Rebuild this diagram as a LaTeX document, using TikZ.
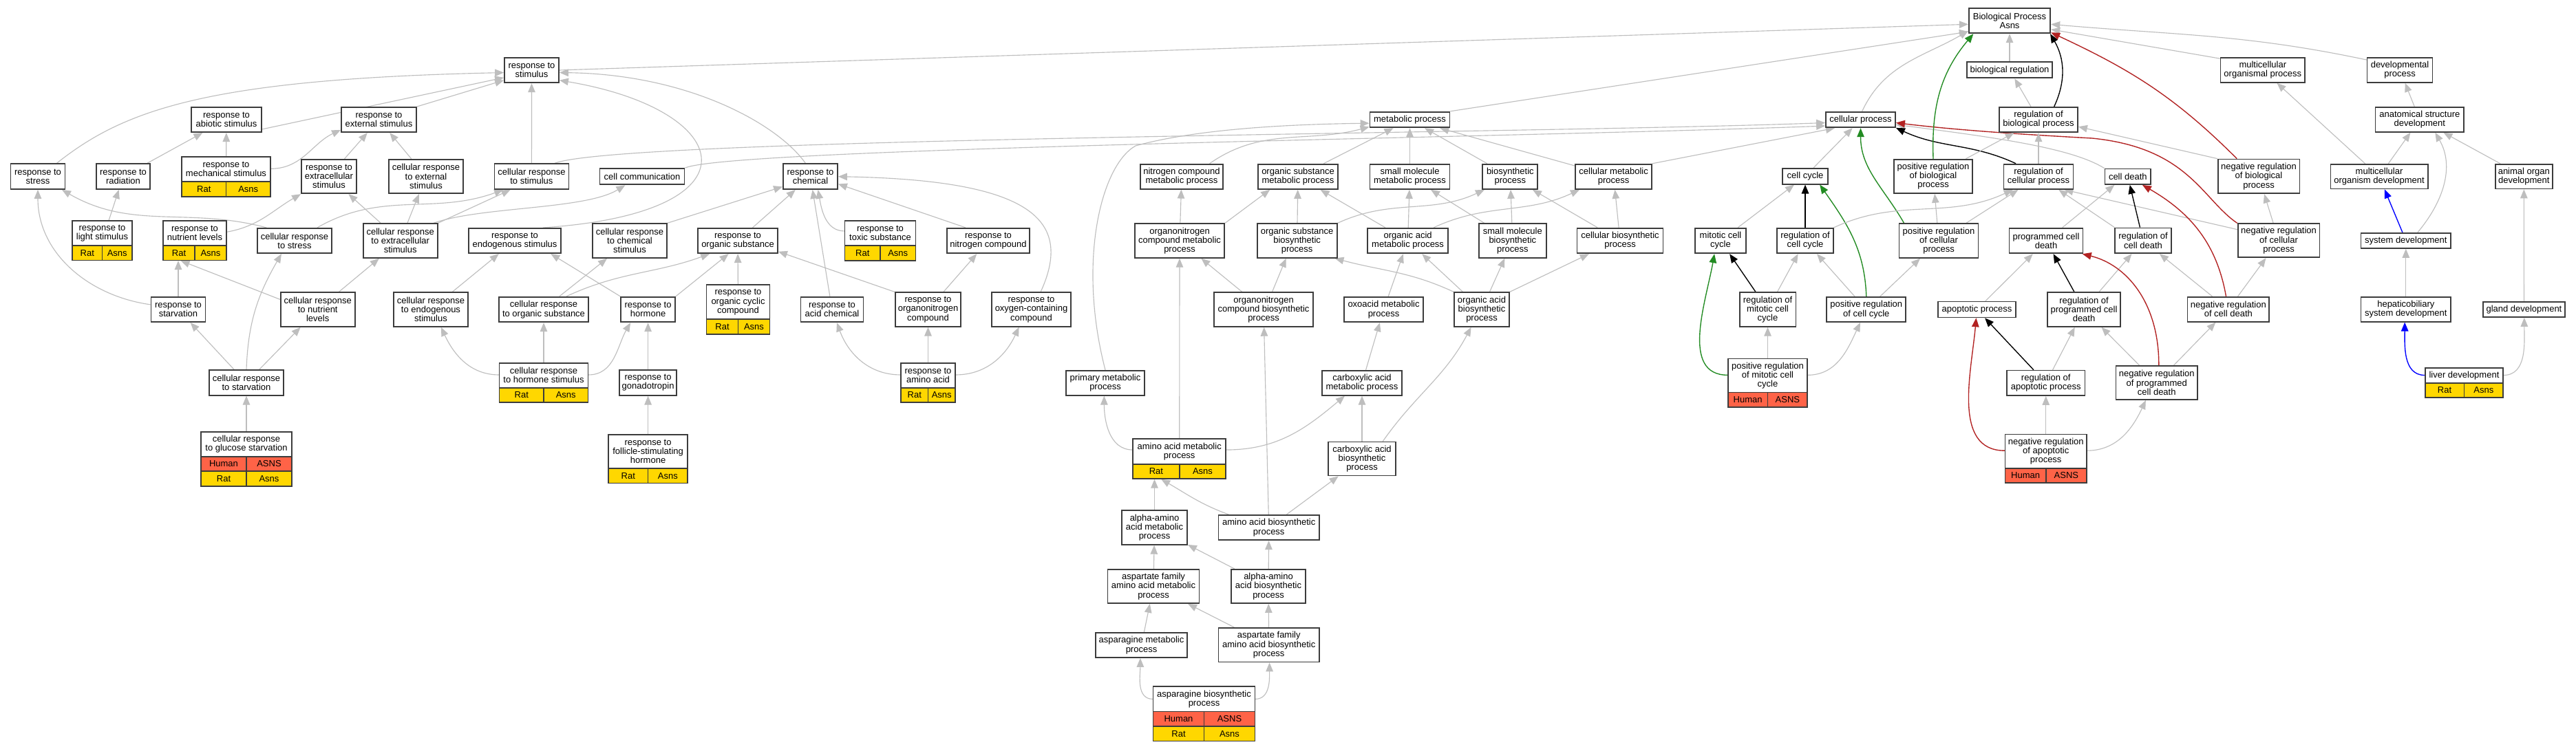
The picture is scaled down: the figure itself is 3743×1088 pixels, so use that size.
\documentclass[tikz,border=0pt]{standalone}
\usepackage{fontspec}
\setmainfont{Liberation Sans}
\usetikzlibrary{arrows.meta,backgrounds}
\definecolor{edgegray}{RGB}{190,190,190}
\definecolor{boxc}{RGB}{60,60,60}
\definecolor{ratc}{RGB}{255,215,0}
\definecolor{humc}{RGB}{255,99,71}
\definecolor{gline}{RGB}{34,139,34}
\definecolor{rline}{RGB}{178,34,34}
\definecolor{bline}{RGB}{0,0,255}
\newcommand\gofont{\fontsize{5.2}{5.3}\selectfont}
\tikzset{
 gotext/.style={draw=boxc,line width=0.7pt,fill=white,inner sep=0pt,align=center,font=\gofont},
 gocell/.style={draw=boxc,line width=0.7pt,inner sep=0pt,font=\gofont},
 gotip/.style={-{Triangle[length=5.2pt,width=4.2pt]}},
 ge/.style={draw=edgegray,line width=0.45pt,gotip},
 gk/.style={draw=black,line width=0.55pt,gotip},
 gg/.style={draw=gline,line width=0.55pt,gotip},
 gr/.style={draw=rline,line width=0.55pt,gotip},
 gb/.style={draw=bline,line width=0.55pt,gotip},
}
% plain box: name, cx, cy, w, h, text
\newcommand\gn[6]{\node[gotext,minimum width=#4*0.4pt,minimum height=#5*0.4pt] (#1) at (#2,-#3) {#6};}
% box with gene rows: name, cx, ytop, w, htext, nrows, text
\newcommand\gbox[7]{%
 \node[inner sep=0pt,minimum width=#4*0.4pt,minimum height={(#5+#6*21.5)*0.4pt}] (#1) at (#2,{-(#3+(#5+#6*21.5)/2)}) {};
 \node[gotext,minimum width=#4*0.4pt,minimum height=#5*0.4pt] at (#2,{-(#3+#5/2)}) {#7};}
% gene row: cx, ytop, w, colour, left, right
\newcommand\grow[6]{%
 \node[gocell,fill=#4,minimum width={#3/2*0.4pt},minimum height=21.5*0.4pt] at ({#1-#3/4},{-(#2+10.75)}) {#5};
 \node[gocell,fill=#4,minimum width={#3/2*0.4pt},minimum height=21.5*0.4pt] at ({#1+#3/4},{-(#2+10.75)}) {#6};}
\begin{document}
\begin{tikzpicture}[x=0.4pt,y=0.4pt]
\useasboundingbox (0,0) rectangle (3743,-1088);
% ---------- rank 0-2
\gn{bp}{2920}{30}{118.5}{36.6}{Biological Process\\Asns}
\gn{stim}{772.5}{102}{79}{36.6}{response to\\stimulus}
\gn{breg}{2920}{101.7}{124}{23.3}{biological regulation}
\gn{mop}{3287.8}{101.8}{122.5}{36}{multicellular\\organismal process}
\gn{dev}{3487}{101.8}{95}{36}{developmental\\process}
\gn{abio}{329}{174}{102}{36.3}{response to\\abiotic stimulus}
\gn{ext}{550.5}{174}{109}{36.3}{response to\\external stimulus}
\gn{met}{2048.5}{174}{116}{22.7}{metabolic process}
\gn{cp}{2703.5}{174}{101}{22.7}{cellular process}
\gn{rbp}{2962}{174}{114}{36.3}{regulation of\\biological process}
\gn{asd}{3515.8}{173.8}{128.7}{36}{anatomical structure\\development}
% ---------- rank 3
\gn{stress}{55}{256.5}{79}{37}{response to\\stress}
\gn{rad}{179}{256.5}{78}{37}{response to\\radiation}
\gbox{mech}{328.5}{227.7}{129}{36.6}{1}{response to\\mechanical stimulus}
\grow{328.5}{264.3}{129}{ratc}{Rat}{Asns}
\gn{exs}{478}{256.5}{80}{49.6}{response to\\extracellular\\stimulus}
\gn{cres}{619}{256.5}{108.5}{49.6}{cellular response\\to external\\stimulus}
\gn{crstim}{772.4}{256.7}{108}{36.7}{cellular response\\to stimulus}
\gn{ccom}{933}{256.7}{123}{23.3}{cell communication}
\gn{chem}{1177.5}{256.7}{79}{36.7}{response to\\chemical}
\gn{ncmp}{1717}{256.7}{120}{36}{nitrogen compound\\metabolic process}
\gn{osmp}{1886}{256.8}{116}{36.3}{organic substance\\metabolic process}
\gn{smmp}{2048.5}{256.8}{116}{36.3}{small molecule\\metabolic process}
\gn{bsp}{2194.3}{256.8}{80}{36.3}{biosynthetic\\process}
\gn{cmp}{2344.6}{256.8}{111}{36.3}{cellular metabolic\\process}
\gn{cc}{2623}{256.3}{66}{22.7}{cell cycle}
\gn{prbp}{2809}{256.3}{114.6}{49.3}{positive regulation\\of biological\\process}
\gn{rcp}{2962}{256.8}{101}{36.3}{regulation of\\cellular process}
\gn{cd}{3091.8}{256.7}{66.8}{22.6}{cell death}
\gn{nrbp}{3282}{256.4}{118.8}{49.8}{negative regulation\\of biological\\process}
\gn{mod}{3457}{256.6}{141.2}{35.6}{multicellular\\organism development}
\gn{aod}{3667.3}{256.6}{83.4}{35.6}{animal organ\\development}
% ---------- rank 4
\gbox{light}{148.5}{321}{87}{36}{1}{response to\\light stimulus}
\grow{148.5}{357}{87}{ratc}{Rat}{Asns}
\gbox{nutr}{283}{321}{92}{36}{1}{response to\\nutrient levels}
\grow{283}{357}{92}{ratc}{Rat}{Asns}
\gn{crstress}{428}{350}{108}{36.3}{cellular response\\to stress}
\gn{crexs}{581.7}{350}{108}{49.7}{cellular response\\to extracellular\\stimulus}
\gn{endo}{748}{350}{133.5}{36.3}{response to\\endogenous stimulus}
\gn{crchem}{915}{350}{108}{49.7}{cellular response\\to chemical\\stimulus}
\gn{orgs}{1072}{350}{116}{36.3}{response to\\organic substance}
\gbox{toxic}{1279}{321}{103}{36.3}{1}{response to\\toxic substance}
\grow{1279}{357.3}{103}{ratc}{Rat}{Asns}
\gn{nitro}{1436}{350}{120}{36.6}{response to\\nitrogen compound}
\gn{oncmp}{1714}{350}{130.5}{49.7}{organonitrogen\\compound metabolic\\process}
\gn{osbp}{1884.6}{350}{116}{49.4}{organic substance\\biosynthetic\\process}
\gn{oamp}{2045.6}{350}{116.7}{36.6}{organic acid\\metabolic process}
\gn{smbp}{2197.8}{350}{98}{49.4}{small molecule\\biosynthetic\\process}
\gn{cbp}{2354}{350}{125}{36.6}{cellular biosynthetic\\process}
\gn{mcc}{2500}{350}{73.4}{36.6}{mitotic cell\\cycle}
\gn{rcc}{2623}{350}{81.6}{36.6}{regulation of\\cell cycle}
\gn{prcp}{2817}{350}{115}{49.7}{positive regulation\\of cellular\\process}
\gn{pcd}{2973}{350}{107}{36.6}{programmed cell\\death}
\gn{rcd}{3114}{349.8}{81.6}{36.8}{regulation of\\cell death}
\gn{nrcp}{3311}{349.8}{118.8}{49}{negative regulation\\of cellular\\process}
\gn{sysd}{3495.8}{349.8}{130.5}{22.2}{system development}
% ---------- rank 5
\gn{starv}{259}{450}{79}{36.3}{response to\\starvation}
\gn{crnut}{461.7}{450}{108}{49.7}{cellular response\\to nutrient\\levels}
\gn{crendo}{626}{450}{108}{49.7}{cellular response\\to endogenous\\stimulus}
\gn{crorgs}{790}{450}{130}{36.6}{cellular response\\to organic substance}
\gn{horm}{941.6}{450}{79}{36.6}{response to\\hormone}
\gbox{orgcyc}{1072.5}{414.3}{92}{50}{1}{response to\\organic cyclic\\compound}
\grow{1072.5}{464.3}{92}{ratc}{Rat}{Asns}
\gn{acid}{1209}{450}{91}{36.6}{response to\\acid chemical}
\gn{onc}{1348.5}{450}{95}{49.3}{response to\\organonitrogen\\compound}
\gn{oxy}{1498.5}{450}{115}{49.3}{response to\\oxygen-containing\\compound}
\gn{oncbp}{1836}{450}{144}{49.6}{organonitrogen\\compound biosynthetic\\process}
\gn{oxo}{2010.5}{450}{115}{36.4}{oxoacid metabolic\\process}
\gn{oabp}{2153}{450}{80}{49.6}{organic acid\\biosynthetic\\process}
\gn{rmcc}{2568.5}{450}{81.7}{49.6}{regulation of\\mitotic cell\\cycle}
\gn{prcc}{2711.8}{450}{115}{36.1}{positive regulation\\of cell cycle}
\gn{apo}{2872.5}{450}{113}{22.8}{apoptotic process}
\gn{rpcd}{3028}{450}{106}{49.6}{regulation of\\programmed cell\\death}
\gn{nrcd}{3237.8}{449.7}{118.5}{36}{negative regulation\\of cell death}
\gn{hep}{3495.8}{449.7}{130.5}{36}{hepaticobiliary\\system development}
\gn{gland}{3667.4}{450}{118.8}{22}{gland development}
% ---------- rank 6
\gn{crstarv}{358}{556.5}{107.6}{36.4}{cellular response\\to starvation}
\gbox{crhorm}{790}{527.7}{129}{36}{1}{cellular response\\to hormone stimulus}
\grow{790}{563.7}{129}{ratc}{Rat}{Asns}
\gn{gonad}{941.6}{556.5}{83}{36.4}{response to\\gonadotropin}
\gbox{aa}{1348.5}{527.7}{79}{36}{1}{response to\\amino acid}
\grow{1348.5}{563.7}{79}{ratc}{Rat}{Asns}
\gn{pmp}{1606}{556.7}{113.5}{36}{primary metabolic\\process}
\gn{cam}{1979}{556.7}{116}{36}{carboxylic acid\\metabolic process}
\gbox{prmcc}{2568.5}{521.4}{115.6}{49}{1}{positive regulation\\of mitotic cell\\cycle}
\grow{2568.5}{570.4}{115.6}{humc}{Human}{ASNS}
\gn{rap}{2972.7}{556.8}{113.4}{36.4}{regulation of\\apoptotic process}
\gn{nrpcd}{3133.7}{556.5}{118.4}{49}{negative regulation\\of programmed\\cell death}
\gbox{liver}{3580.4}{535}{113.4}{21.8}{1}{liver development}
\grow{3580.4}{556.8}{113.4}{ratc}{Rat}{Asns}
% ---------- rank 7
\gbox{glucose}{358}{627.7}{132}{36}{2}{cellular response\\to glucose starvation}
\grow{358}{663.7}{132}{humc}{Human}{ASNS}
\grow{358}{685.2}{132}{ratc}{Rat}{Asns}
\gbox{fsh}{941.6}{631.7}{115}{49.3}{1}{response to\\follicle-stimulating\\hormone}
\grow{941.6}{681}{115}{ratc}{Rat}{Asns}
\gbox{aamp}{1713.7}{638.3}{135}{36.4}{1}{amino acid metabolic\\process}
\grow{1713.7}{674.7}{135}{ratc}{Rat}{Asns}
\gn{cabp}{1979}{667}{97.6}{49}{carboxylic acid\\biosynthetic\\process}
\gbox{nrap}{2972.7}{631.4}{118.6}{49.3}{1}{negative regulation\\of apoptotic\\process}
\grow{2972.7}{680.7}{118.6}{humc}{Human}{ASNS}
% ---------- rank 8-11
\gn{aaamp}{1677.5}{767}{95}{49.6}{alpha-amino\\acid metabolic\\process}
\gn{aabp}{1843.7}{767}{146.4}{36.3}{amino acid biosynthetic\\process}
\gn{afmp}{1676}{852.4}{133}{49.2}{aspartate family\\amino acid metabolic\\process}
\gn{aaabp}{1843}{852.4}{108}{49.2}{alpha-amino\\acid biosynthetic\\process}
\gn{asnmp}{1658.5}{938}{133}{36}{asparagine metabolic\\process}
\gn{afbp}{1843.7}{937.7}{146.4}{49.5}{aspartate family\\amino acid biosynthetic\\process}
\gbox{asnbp}{1749.5}{998}{148}{36.5}{2}{asparagine biosynthetic\\process}
\grow{1749.5}{1034.5}{148}{humc}{Human}{ASNS}
\grow{1749.5}{1056}{148}{ratc}{Rat}{Asns}

\begin{pgfonlayer}{background}
\fill[white] (0,0) rectangle (3743,-1088);
% ---- stimulus branch
\draw[ge] (stress.35) .. controls (180,-160) and (300,-115) .. (stim.185);
\draw[ge] (rad) -- (abio);
\draw[ge] (mech) -- (abio);
\draw[ge] (mech.10) to[out=0,in=205] (ext.195);
\draw[ge] (exs) -- (ext);
\draw[ge] (cres) -- (ext);
\draw[ge] (abio.-15) -- (stim.195);
\draw[ge] (ext.north east) -- (stim.200);
\draw[ge] (light) -- (rad);
\draw[ge] (nutr.15) to[out=10,in=210] (exs.south west);
\draw[ge] (crstress.155) to[out=165,in=-30] (stress.-29);
\draw[ge] (crstress.30) to[out=30,in=200] (crstim.205);
\draw[ge] (crexs) -- (exs);
\draw[ge] (crexs) -- (cres);
\draw[ge] (crexs.north east) -- (crstim.212);
\draw[ge] (crexs.28) .. controls (700,-300) and (850,-305) .. (ccom.207);
\draw[ge] (stim.east) -- (bp.185);
\draw[ge] (crstim) -- (stim);
\draw[ge] (chem.110) .. controls (1130,-180) and (1000,-108) .. (stim.-5);
\draw[ge] (endo.25) .. controls (1110,-310) and (1070,-160) .. (stim.-20);
\draw[ge] (crchem.north east) -- (chem.200);
\draw[ge] (orgs) -- (chem);
\draw[ge] (acid) -- (chem);
\draw[ge] (toxic.165) to[out=180,in=-80] (chem.-60);
\draw[ge] (oxy.62) .. controls (1560,-320) and (1500,-262) .. (chem.east);
\draw[ge] (nitro.150) -- (chem.-15);
\draw[ge] (crstarv.north) to[out=88,in=-120] (crstress.225);
\draw[ge] (starv.170) to[out=172,in=-90] (stress.south);
\draw[ge] (starv.north) -- (starv.north |- nutr.south);
\draw[ge] (crnut.165) -- (nutr.235);
\draw[ge] (crnut) -- (crexs);
\draw[ge] (crstarv) -- (starv);
\draw[ge] (crstarv) -- (crnut);
\draw[ge] (glucose) -- (crstarv);
\draw[ge] (crendo) -- (endo);
\draw[ge] (horm.north west) -- (endo.-20);
\draw[ge] (crorgs.40) -- (crchem.218);
\draw[ge] (crorgs.30) to[out=25,in=200] (orgs.205);
\draw[ge] (horm.north east) -- (orgs.235);
\draw[ge] (orgcyc) -- (orgs);
\draw[ge] (onc.north west) -- (orgs.-15);
\draw[ge] (crhorm.170) to[out=180,in=-65] (crendo.-60);
\draw[ge] (crhorm) -- (crorgs);
\draw[ge] (crhorm.10) to[out=0,in=-120] (horm.217);
\draw[ge] (gonad) -- (horm);
\draw[ge] (fsh) -- (gonad);
\draw[ge] (onc) -- (nitro);
\draw[ge] (aa) -- (onc);
\draw[ge] (aa.164) to[out=180,in=-70] (acid.-70);
\draw[ge] (aa.16) to[out=0,in=-115] (oxy.235);
% ---- top level
\draw[ge] (met.north east) -- (bp.195);
\draw[ge] (cp.80) to[out=65,in=210] (bp.194);
\draw[ge] (breg) -- (bp);
\draw[ge] (mop.165) -- (bp.-12);
\draw[ge] (dev.163) to[out=168,in=-5] (bp.-5);
\draw[ge] (asd) -- (dev);
\draw[ge] (mod) -- (mop);
\draw[ge] (mod) -- (asd);
\draw[ge] (aod) -- (asd);
\draw[gb] (sysd) -- (mod);
\draw[ge] (sysd.35) to[out=50,in=-60] (asd.-40);
\draw[ge] (hep) -- (sysd);
\draw[ge] (gland) -- (aod);
\draw[gb] (liver.169) to[out=180,in=-90] (hep.-95);
\draw[ge] (liver.11) to[out=0,in=-90] (gland.-88);
% ---- metabolism
\draw[ge] (ncmp.25) to[out=35,in=195] (met.190);
\draw[ge] (pmp.north) .. controls (1565,-380) and (1600,-240) .. (1650,-212) .. controls (1730,-190) and (1850,-181) .. (met.185);
\draw[ge] (osmp) -- (met);
\draw[ge] (smmp) -- (met);
\draw[ge] (bsp) -- (met);
\draw[ge] (cmp) -- (met);
\draw[ge] (cmp.north east) -- (cp.198);
\draw[ge] (crstim.30) .. controls (900,-200) and (2200,-195) .. (cp.185);
\draw[ge] (ccom.north east) .. controls (1060,-215) and (2200,-200) .. (cp.190);
\draw[ge] (oncmp) -- (ncmp);
\draw[ge] (oncmp.north east) -- (osmp.205);
\draw[ge] (oncbp) -- (oncmp);
\draw[ge] (oncbp.64) -- (osbp.238);
\draw[ge] (osbp) -- (osmp);
\draw[ge] (osbp.north east) to[out=25,in=205] (bsp.207);
\draw[ge] (oamp) -- (osmp);
\draw[ge] (oamp) -- (smmp);
\draw[ge] (oamp.27) to[out=25,in=205] (cmp.201);
\draw[ge] (smbp) -- (smmp);
\draw[ge] (smbp) -- (bsp);
\draw[ge] (cbp) -- (bsp);
\draw[ge] (cbp) -- (cmp);
\draw[ge] (oxo) -- (oamp);
\draw[ge] (oabp) -- (oamp);
\draw[ge] (oabp.north west) to[out=155,in=-15] (osbp.-25);
\draw[ge] (oabp) -- (smbp);
\draw[ge] (oabp.north east) -- (cbp.203);
\draw[ge] (cam) -- (oxo);
\draw[ge] (aamp.169) to[out=180,in=-90] (pmp.-95);
\draw[ge] (aamp) -- (oncmp);
\draw[ge] (aamp.11) to[out=0,in=220] (cam.217);
\draw[ge] (cabp) -- (cam);
\draw[ge] (cabp.40) to[out=55,in=-118] (oabp.239);
\draw[ge] (aaamp.north) -- (aaamp.north |- aamp.south);
\draw[ge] (aabp.162) to[out=160,in=-30] (aamp.228);
\draw[ge] (aabp) -- (oncbp);
\draw[ge] (aabp) -- (cabp);
\draw[ge] (afmp) -- (aaamp);
\draw[ge] (aaabp) -- (aaamp);
\draw[ge] (aaabp) -- (aabp);
\draw[ge] (asnmp) -- (afmp);
\draw[ge] (afbp) -- (afmp);
\draw[ge] (afbp) -- (aaabp);
\draw[ge] (asnbp.164) to[out=180,in=-90] (asnmp.-95);
\draw[ge] (asnbp.16) to[out=0,in=-90] (afbp.-88);
% ---- cellular process / regulation
\draw[ge] (cc) -- (cp);
\draw[ge] (cd.north west) .. controls (3010,-215) and (2900,-200) .. (cp.-8);
\draw[gg] (prcp.153) to[out=120,in=-90] (cp.south);
\draw[gk] (rcp.150) to[out=155,in=-25] (cp.-13);
\draw[gr] (nrcp.north west) .. controls (3200,-290) and (3180,-215) .. (3040,-201) .. controls (2950,-196) and (2850,-190) .. (cp.-5);
\draw[gk] (rcc) -- (cc);
\draw[ge] (mcc) -- (cc);
\draw[gg] (prcc.north) to[out=92,in=-55] (cc.-30);
\draw[ge] (prcc) -- (rcc);
\draw[ge] (prcc) -- (prcp);
\draw[gk] (rmcc) -- (mcc);
\draw[ge] (rmcc) -- (rcc);
\draw[gg] (prmcc.169) to[out=180,in=-100] (mcc.245);
\draw[ge] (prmcc) -- (rmcc);
\draw[ge] (prmcc.11) to[out=0,in=-115] (prcc.245);
\draw[ge] (rcc.north east) to[out=25,in=205] (rcp.207);
\draw[ge] (prcp) -- (rcp);
\draw[ge] (prcp) -- (prbp);
\draw[gg] (prbp.north) to[out=92,in=-130] (bp.200);
\draw[ge] (prbp) -- (rbp);
\draw[ge] (rcp) -- (rbp);
\draw[gk] (rbp.40) to[out=65,in=-60] (bp.-18);
\draw[ge] (rbp) -- (breg);
\draw[gr] (nrbp.141) to[out=135,in=-25] (bp.-16);
\draw[ge] (nrbp.north west) -- (rbp.-10);
\draw[ge] (nrcp.165) -- (rcp.-27);
\draw[ge] (nrcp) -- (nrbp);
\draw[gk] (rcd) -- (cd);
\draw[ge] (rcd.north west) -- (rcp.-33);
\draw[ge] (pcd.39) -- (cd.212);
\draw[ge] (apo) -- (pcd);
\draw[gk] (rpcd) -- (pcd);
\draw[ge] (rpcd) -- (rcd);
\draw[gr] (nrpcd.83) .. controls (3137,-440) and (3090,-385) .. (pcd.-20);
\draw[ge] (nrpcd) -- (rpcd);
\draw[ge] (nrpcd) -- (nrcd);
\draw[gr] (nrcd.100) to[out=100,in=-30] (cd.-30);
\draw[ge] (nrcd) -- (rcd);
\draw[ge] (nrcd) -- (nrcp);
\draw[gk] (rap) -- (apo);
\draw[ge] (rap) -- (rpcd);
\draw[ge] (nrap) -- (rap);
\draw[gr] (nrap.169) to[out=180,in=-95] (apo.-95);
\draw[ge] (nrap.11) to[out=0,in=-115] (nrpcd.238);
\end{pgfonlayer}
\end{tikzpicture}
\end{document}
